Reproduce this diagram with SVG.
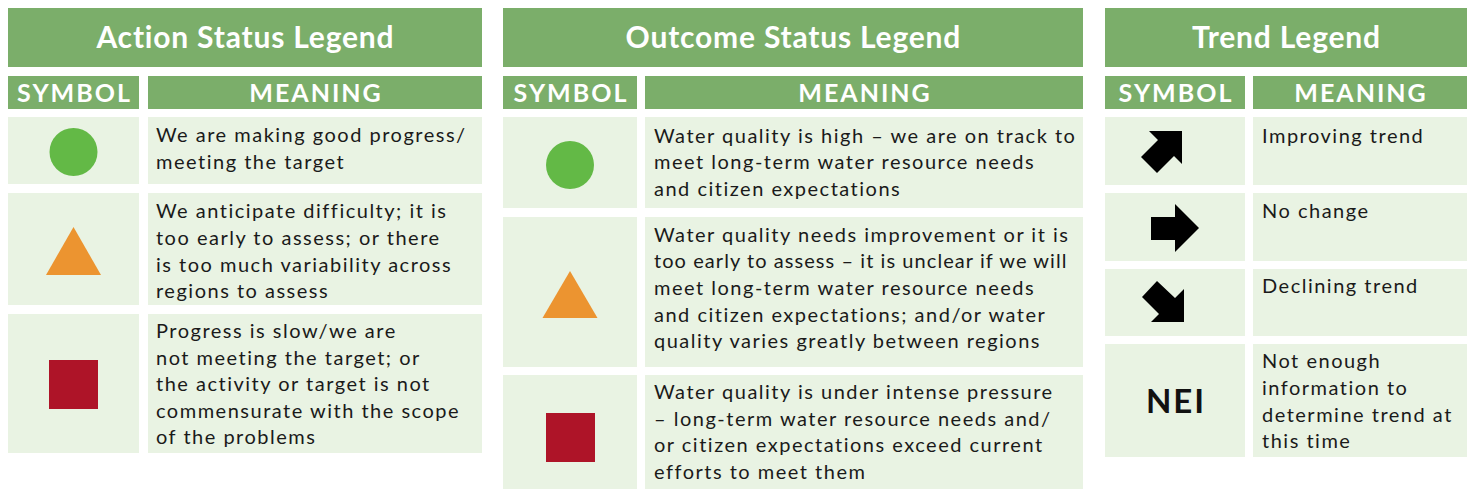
<svg xmlns="http://www.w3.org/2000/svg" width="1473" height="491" viewBox="0 0 1473 491">
<style>
.hd{fill:#7bae6a}
.cell{fill:#e9f3e3}
.title{font-family:Lato,"Liberation Sans",sans-serif;font-weight:bold;font-size:30px;letter-spacing:0.8px;fill:#ffffff;text-anchor:middle}
.colh{font-family:Lato,"Liberation Sans",sans-serif;font-weight:bold;font-size:25px;letter-spacing:2px;fill:#ffffff;text-anchor:middle}
.txt{font-family:Lato,"Liberation Sans",sans-serif;font-size:20px;letter-spacing:1.5px;fill:#1a1a1a}
.nei{font-family:Lato,"Liberation Sans",sans-serif;font-weight:bold;font-size:33px;letter-spacing:2px;fill:#111111;text-anchor:middle}
.grn{fill:#63b946}
.org{fill:#ec9430}
.red{fill:#ae1428}
.arr{fill:#000000}
</style>
<rect width="1473" height="491" fill="#ffffff"/>

<g id="action-legend">
  <rect class="hd" x="8" y="8" width="474" height="59"/>
  <text class="title" x="245.4" y="48">Action Status Legend</text>
  <rect class="hd" x="8" y="76" width="131" height="33"/>
  <text class="colh" x="74.5" y="102">SYMBOL</text>
  <rect class="hd" x="148" y="76" width="334" height="33"/>
  <text class="colh" x="316" y="102">MEANING</text>
  <g id="action-row1">
    <rect class="cell" x="8" y="117" width="131" height="67"/>
    <rect class="cell" x="148" y="117" width="334" height="67"/>
    <circle class="grn" cx="73.5" cy="152" r="24"/>
    <text class="txt" x="156" y="142">We are making good progress/</text>
    <text class="txt" x="156" y="168.5">meeting the target</text>
  </g>
  <g id="action-row2">
    <rect class="cell" x="8" y="193" width="131" height="112"/>
    <rect class="cell" x="148" y="193" width="334" height="112"/>
    <polygon class="org" points="73.5,227 101,275 46,275"/>
    <text class="txt" x="156" y="218">We anticipate difficulty; it is</text>
    <text class="txt" x="156" y="245">too early to assess; or there</text>
    <text class="txt" x="156" y="271.5">is too much variability across</text>
    <text class="txt" x="156" y="298">regions to assess</text>
  </g>
  <g id="action-row3">
    <rect class="cell" x="8" y="314" width="131" height="139"/>
    <rect class="cell" x="148" y="314" width="334" height="139"/>
    <rect class="red" x="49" y="360" width="49" height="49"/>
    <text class="txt" x="156" y="338">Progress is slow/we are</text>
    <text class="txt" x="156" y="364.5">not meeting the target; or</text>
    <text class="txt" x="156" y="391">the activity or target is not</text>
    <text class="txt" x="156" y="417.5">commensurate with the scope</text>
    <text class="txt" x="156" y="444">of the problems</text>
  </g>
</g>

<g id="outcome-legend">
  <rect class="hd" x="503" y="8" width="580" height="59"/>
  <text class="title" x="793.4" y="48">Outcome Status Legend</text>
  <rect class="hd" x="503" y="76" width="134" height="33"/>
  <text class="colh" x="571" y="102">SYMBOL</text>
  <rect class="hd" x="645" y="76" width="438" height="33"/>
  <text class="colh" x="865" y="102">MEANING</text>
  <g id="outcome-row1">
    <rect class="cell" x="503" y="117" width="134" height="91"/>
    <rect class="cell" x="645" y="117" width="438" height="91"/>
    <circle class="grn" cx="570" cy="165" r="24"/>
    <text class="txt" x="654" y="142.5">Water quality is high – we are on track to</text>
    <text class="txt" x="654" y="169">meet long-term water resource needs</text>
    <text class="txt" x="654" y="195.5">and citizen expectations</text>
  </g>
  <g id="outcome-row2">
    <rect class="cell" x="503" y="217" width="134" height="150"/>
    <rect class="cell" x="645" y="217" width="438" height="150"/>
    <polygon class="org" points="570,271 597.5,318 542.5,318"/>
    <text class="txt" x="654" y="241.5">Water quality needs improvement or it is</text>
    <text class="txt" x="654" y="268" textLength="414" lengthAdjust="spacing">too early to assess – it is unclear if we will</text>
    <text class="txt" x="654" y="295">meet long-term water resource needs</text>
    <text class="txt" x="654" y="321.5">and citizen expectations; and/or water</text>
    <text class="txt" x="654" y="348">quality varies greatly between regions</text>
  </g>
  <g id="outcome-row3">
    <rect class="cell" x="503" y="375" width="134" height="114"/>
    <rect class="cell" x="645" y="375" width="438" height="114"/>
    <rect class="red" x="546" y="413" width="49" height="49"/>
    <text class="txt" x="654" y="399">Water quality is under intense pressure</text>
    <text class="txt" x="654" y="425.5">– long-term water resource needs and/</text>
    <text class="txt" x="654" y="452">or citizen expectations exceed current</text>
    <text class="txt" x="654" y="478.5">efforts to meet them</text>
  </g>
</g>

<g id="trend-legend">
  <rect class="hd" x="1105" y="8" width="362" height="59"/>
  <text class="title" x="1286.4" y="48">Trend Legend</text>
  <rect class="hd" x="1105" y="76" width="140" height="33"/>
  <text class="colh" x="1176" y="102">SYMBOL</text>
  <rect class="hd" x="1253" y="76" width="214" height="33"/>
  <text class="colh" x="1361" y="102">MEANING</text>
  <g id="trend-row1">
    <rect class="cell" x="1105" y="117" width="140" height="68"/>
    <rect class="cell" x="1253" y="117" width="214" height="68"/>
    <polygon class="arr" points="1149,131 1182,131 1182,164 1174,156 1157,173 1141,157 1158,140"/>
    <text class="txt" x="1262" y="143">Improving trend</text>
  </g>
  <g id="trend-row2">
    <rect class="cell" x="1105" y="193" width="140" height="68"/>
    <rect class="cell" x="1253" y="193" width="214" height="68"/>
    <polygon class="arr" points="1151,217 1175,217 1175,204 1199,228 1175,252 1175,240 1151,240"/>
    <text class="txt" x="1262" y="218">No change</text>
  </g>
  <g id="trend-row3">
    <rect class="cell" x="1105" y="269" width="140" height="67"/>
    <rect class="cell" x="1253" y="269" width="214" height="67"/>
    <polygon class="arr" points="1184,289 1184,322 1151,322 1159,314 1142,297 1157,281 1175,298"/>
    <text class="txt" x="1262" y="293">Declining trend</text>
  </g>
  <g id="trend-row4">
    <rect class="cell" x="1105" y="344" width="140" height="113"/>
    <rect class="cell" x="1253" y="344" width="214" height="113"/>
    <text class="nei" x="1176" y="413">NEI</text>
    <text class="txt" x="1262" y="368">Not enough</text>
    <text class="txt" x="1262" y="395">information to</text>
    <text class="txt" x="1262" y="421.5">determine trend at</text>
    <text class="txt" x="1262" y="448">this time</text>
  </g>
</g>
<g id="connectors"/>
</svg>
